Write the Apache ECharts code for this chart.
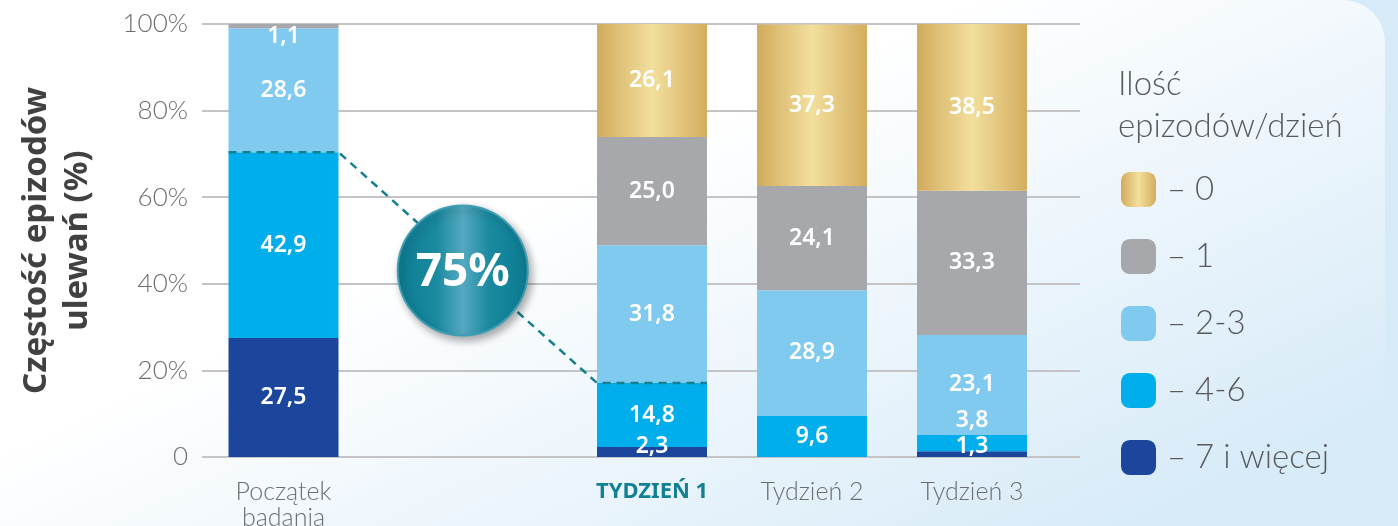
<!DOCTYPE html>
<html>
<head>
<meta charset="utf-8">
<script src="https://cdn.jsdelivr.net/npm/echarts/dist/echarts.min.js"></script>
<style>
  html, body { margin: 0; padding: 0; width: 1398px; height: 526px; overflow: hidden; background: #d6eaf8; }
  #panel { position: absolute; left: 0; top: 0; width: 1385px; height: 540px; border-top-right-radius: 42px;
    background: linear-gradient(155deg, #ffffff 0%, #ffffff 38%, #d8ebf8 88%, #d6eaf8 100%); }
  #chart { position: absolute; left: 0; top: 0; width: 1398px; height: 526px; }
</style>
</head>
<body>
<div id="panel"></div>
<div id="chart"></div>
<script>
// ---- data ----
const categories = ['Początek\nbadania', 'TYDZIEŃ 1', 'Tydzień 2', 'Tydzień 3'];
const seriesNames = ['– 7 i więcej', '– 4-6', '– 2-3', '– 1', '– 0'];
const vals7plus = [27.5, 2.3, null, 1.3];
const vals4to6 = [42.9, 14.8, 9.6, 3.8];
const vals2to3 = [28.6, 31.8, 28.9, 23.1];
const vals1 = [1.1, 25.0, 24.1, 33.3];
const vals0 = [null, 26.1, 37.3, 38.5];
const yTicks = [0, 20, 40, 60, 80, 100];
const yAxisTitle = 'Częstość epizodów\nulewań (%)';
const legendTitle = 'Ilość\nepizodów/dzień';
const reductionText = '75%';

// ---- styles ----
const allVals = [vals7plus, vals4to6, vals2to3, vals1, vals0];
const gold = { type: 'linear', x: 0, y: 0, x2: 1, y2: 0, colorStops: [
  { offset: 0, color: '#d2ab5c' }, { offset: 0.5, color: '#f2df9d' }, { offset: 1, color: '#d3ad5e' } ] };
const colors = ['#1b469b', '#00aeeb', '#80c9ef', '#a7a8ab', gold];
const lightFont = 'Lato';
const barWidth = 110;
// label offsets keyed by "seriesIndex-categoryIndex"
const labelOffsets = { '3-0': [0, 10], '0-1': [0, -6], '0-3': [0, -8], '1-3': [0, -23] };

const fmt = v => v.toFixed(1).replace('.', ',');

const series = [];
[[1, [0]], [2, [1, 2, 3]]].forEach(([g, idxs]) => {
  allVals.forEach((arr, s) => {
    series.push({
      name: seriesNames[s], type: 'bar', stack: 'g' + g,
      xAxisIndex: g, yAxisIndex: g, barWidth: barWidth,
      itemStyle: { color: colors[s] },
      label: { show: true, position: 'inside', color: '#ffffff', fontSize: 23, fontWeight: 600,
        fontFamily: 'Noto Sans', formatter: p => (p.value == null ? '' : fmt(p.value)) },
      data: idxs.map(i => {
        const off = labelOffsets[s + '-' + i];
        return off ? { value: arr[i], label: { offset: off } } : { value: arr[i] };
      })
    });
  });
});

const chart = echarts.init(document.getElementById('chart'));
const gridTop = 24, gridHeight = 433;
const catLabel = {
  interval: 0, hideOverlap: false,
  margin: 22, fontSize: 25, color: '#6d6e71', fontFamily: lightFont, fontWeight: 300, lineHeight: 26,
  formatter: v => (v === 'TYDZIEŃ 1' ? '{b|' + v + '}' : v),
  rich: { b: { fontSize: 22, fontWeight: 'bold', color: '#127f93', fontFamily: 'Noto Sans' } }
};
chart.setOption({
  animation: false,
  title: { text: legendTitle, left: 1113, top: 58,
    textStyle: { fontSize: 33, fontWeight: 300, fontFamily: lightFont, color: '#58595b', lineHeight: 42 } },
  legend: {
    data: seriesNames.slice().reverse(), orient: 'vertical', left: 1116, top: 167,
    itemWidth: 35, itemHeight: 35, itemGap: 32, icon: 'roundRect', selectedMode: false,
    textStyle: { fontSize: 33, fontWeight: 300, fontFamily: lightFont, color: '#58595b', padding: [0, 0, 0, 6] }
  },
  grid: [
    { left: 202, top: gridTop, width: 878, height: gridHeight, outerBoundsMode: 'none', containLabel: false },
    { left: 202, top: gridTop, width: 163, height: gridHeight, outerBoundsMode: 'none', containLabel: false },
    { left: 572, top: gridTop, width: 480, height: gridHeight, outerBoundsMode: 'none', containLabel: false }
  ],
  xAxis: [
    { gridIndex: 0, type: 'category', data: [''], show: false },
    { gridIndex: 1, type: 'category', data: categories.slice(0, 1), axisLine: { show: false },
      axisTick: { show: false }, axisLabel: catLabel },
    { gridIndex: 2, type: 'category', data: categories.slice(1), axisLine: { show: false },
      axisTick: { show: false }, axisLabel: catLabel }
  ],
  yAxis: [
    { gridIndex: 0, type: 'value', min: yTicks[0], max: yTicks[yTicks.length - 1], interval: yTicks[1] - yTicks[0],
      axisLine: { show: false }, axisTick: { show: false },
      splitLine: { lineStyle: { color: '#c4c4c6', width: 2 } },
      axisLabel: { margin: 14, fontSize: 26, fontWeight: 300, fontFamily: lightFont, color: '#6d6e71',
        formatter: v => (v === 0 ? '0' : v + '%') },
      name: yAxisTitle, nameLocation: 'middle', nameRotate: 90, nameGap: 104,
      nameTextStyle: { fontSize: 33, fontWeight: 'bold', fontFamily: 'Noto Sans', color: '#414042', lineHeight: 41 } },
    { gridIndex: 1, type: 'value', min: 0, max: 100, show: false },
    { gridIndex: 2, type: 'value', min: 0, max: 100, show: false }
  ],
  series: series
});

// dashed connector + reduction badge, positioned through the library's scales
const cumBase = vals7plus[0] + vals4to6[0];
const cumW1 = vals7plus[1] + vals4to6[1];
const a = chart.convertToPixel({ xAxisIndex: 1, yAxisIndex: 1 }, [0, cumBase]);
const b = chart.convertToPixel({ xAxisIndex: 2, yAxisIndex: 2 }, [0, cumW1]);
const half = barWidth / 2;
const cx = (a[0] + half + b[0] - half) / 2 - 5;
const cy = (a[1] + b[1]) / 2 + 3;
const teal = '#17808f';
chart.setOption({
  graphic: [
    { type: 'polyline', z: 100, silent: true,
      shape: { points: [[a[0] - half, a[1]], [a[0] + half, a[1]], [b[0] - half, b[1]], [b[0] + half, b[1]]] },
      style: { stroke: teal, lineWidth: 2.5, lineDash: [8, 6], fill: null } },
    { type: 'circle', z: 110, silent: true, shape: { cx: cx, cy: cy, r: 65 },
      style: {
        fill: new echarts.graphic.LinearGradient(0, 0, 1, 0, [
          { offset: 0, color: '#0c7c92' }, { offset: 0.3, color: '#1a8aa0' }, { offset: 0.5, color: '#55a9c0' },
          { offset: 0.7, color: '#1a8aa0' }, { offset: 1, color: '#0b7a90' }]),
        stroke: '#3f9db3', lineWidth: 2,
        shadowBlur: 8, shadowOffsetX: 3, shadowOffsetY: 4, shadowColor: 'rgba(0,0,0,0.35)' } },
    { type: 'text', z: 120, silent: true, x: cx, y: cy + 2,
      style: { text: reductionText, fill: '#ffffff', fontSize: 46, fontWeight: 'bold', fontFamily: 'Noto Sans',
        align: 'center', verticalAlign: 'middle' } }
  ]
});
</script>
</body>
</html>
